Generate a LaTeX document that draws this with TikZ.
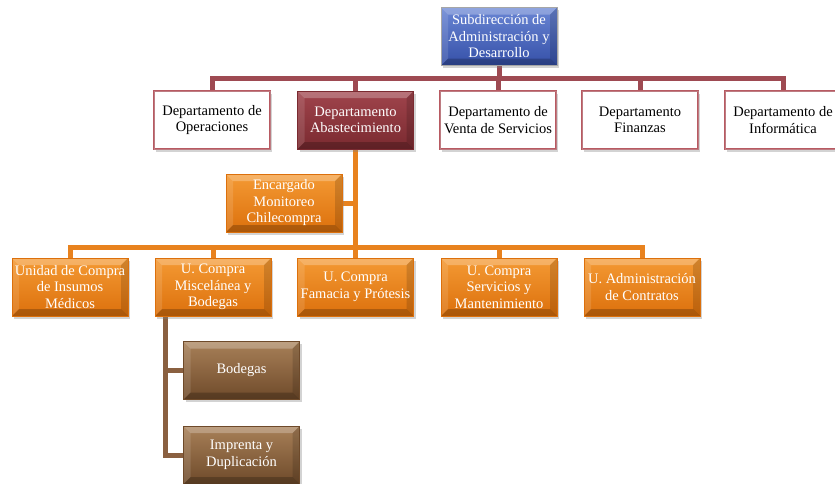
\documentclass[tikz,border=0pt]{standalone}
\usepackage{fontspec}
\setmainfont{Liberation Serif}
\usetikzlibrary{shadows,calc,backgrounds}
\definecolor{dred}{HTML}{A0444C}
\definecolor{dredD}{HTML}{7A2A30}
\definecolor{lred}{HTML}{B85A62}
\definecolor{rline}{HTML}{9E4A52}
\definecolor{oraL}{HTML}{F49A34}
\definecolor{oraD}{HTML}{DC700C}
\definecolor{oline}{HTML}{E8821E}
\definecolor{bluL}{HTML}{6A86D4}
\definecolor{bluD}{HTML}{3550A8}
\definecolor{broL}{HTML}{A88058}
\definecolor{broD}{HTML}{6E4A2A}
\definecolor{bline}{HTML}{8A6040}
\tikzset{
  bevel/.style={path picture={
    \coordinate (nw) at (path picture bounding box.north west);
    \coordinate (ne) at (path picture bounding box.north east);
    \coordinate (sw) at (path picture bounding box.south west);
    \coordinate (se) at (path picture bounding box.south east);
    \fill[white,opacity=0.25] (nw) -- (ne) -- ([shift={(-7pt,-7pt)}]ne) -- ([shift={(7pt,-7pt)}]nw) -- cycle;
    \fill[white,opacity=0.12] (nw) -- (sw) -- ([shift={(7pt,7pt)}]sw) -- ([shift={(7pt,-7pt)}]nw) -- cycle;
    \fill[black,opacity=0.22] (sw) -- (se) -- ([shift={(-7pt,7pt)}]se) -- ([shift={(7pt,7pt)}]sw) -- cycle;
    \fill[black,opacity=0.14] (ne) -- (se) -- ([shift={(-7pt,7pt)}]se) -- ([shift={(-7pt,-7pt)}]ne) -- cycle;
  }},
  box/.style={minimum width=116pt, minimum height=58pt, inner sep=1pt, align=center,
    font=\fontsize{14.5}{16.5}\selectfont,
    drop shadow={shadow xshift=2pt, shadow yshift=-2.5pt, opacity=0.35}},
  whitebox/.style={box, draw=lred, double=dred!70!white, double distance=0.6pt, line width=1pt, fill=white, text=black},
  redbox/.style={box, bevel, top color=dred, bottom color=dredD, draw=dredD, text=white},
  bluebox/.style={box, bevel, top color=bluL, bottom color=bluD, draw=gray!70, line width=0.8pt, text=white},
  orabox/.style={box, bevel, top color=oraL, bottom color=oraD, draw=oraD, text=white},
  brobox/.style={box, bevel, top color=broL, bottom color=broD, draw=broD, text=white},
  redline/.style={draw=rline, line width=5pt},
  oraline/.style={draw=oline, line width=5pt},
  broline/.style={draw=bline, line width=5pt},
}
\begin{document}
\begin{tikzpicture}[x=1pt,y=-1pt]
\useasboundingbox (0,0) rectangle (835,483);
\clip (0,0) rectangle (835,483);

% nodes
\node[bluebox] (sub) at (499,36.5) {Subdirección de\\Administración y\\Desarrollo};
\node[whitebox] (ops) at (212,120) {Departamento de\\Operaciones};
\node[redbox] (aba) at (355.5,120) {Departamento\\Abastecimiento};
\node[whitebox] (ven) at (498,120) {Departamento de\\Venta de Servicios};
\node[whitebox] (fin) at (640,120) {Departamento\\Finanzas};
\node[whitebox] (inf) at (783,120) {Departamento de\\Informática};
\node[orabox] (enc) at (284,203) {Encargado\\Monitoreo\\Chilecompra};
\node[orabox] (ins) at (70,287) {Unidad de Compra\\de Insumos\\Médicos};
\node[orabox] (mis) at (213,287) {U. Compra\\Miscelánea y\\Bodegas};
\node[orabox] (far) at (355.5,287) {U. Compra\\Famacia y Prótesis};
\node[orabox] (ser) at (499,287) {U. Compra\\Servicios y\\Mantenimiento};
\node[orabox] (adm) at (642,287) {U. Administración\\de Contratos};
\node[brobox] (bod) at (241.5,370.5) {Bodegas};
\node[brobox] (imp) at (241.5,455) {Imprenta y\\Duplicación};

\coordinate (rbar) at (499,78);
\coordinate (obar) at (355.5,247);
\coordinate (bv) at ([xshift=11pt]mis.south west);

\begin{scope}[on background layer]
\draw[redline] (sub.south) -- (rbar);
\foreach \n in {ops,aba,ven,fin,inf} \draw[redline] (rbar) -| (\n.north);
\draw[oraline] (aba.south) -- (far.north);
\draw[oraline] (enc.east) -- (enc.east -| aba.south);
\foreach \n in {ins,mis,ser,adm} \draw[oraline] (obar) -| (\n.north);
\draw[broline] (bv) |- (bod.west);
\draw[broline] (bv) |- (imp.west);
\end{scope}
\end{tikzpicture}
\end{document}
